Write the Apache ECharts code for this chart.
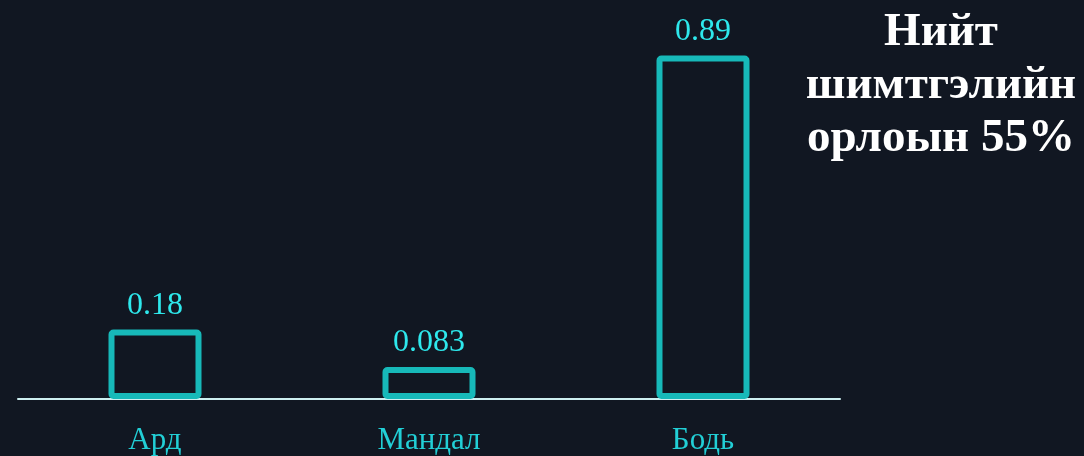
<!DOCTYPE html>
<html>
<head>
<meta charset="utf-8">
<script src="https://cdn.jsdelivr.net/npm/echarts@6/dist/echarts.min.js"></script>
<style>
  html, body { margin: 0; padding: 0; background: #111722; }
  #chart { width: 1084px; height: 456px; }
</style>
</head>
<body>
<div id="chart"></div>
<script>
// data
const categories = ['Ард', 'Мандал', 'Бодь']
const values = [0.18, 0.083, 0.89]
const valueLabels = ['0.18', '0.083', '0.89']
const titleLines = ['Нийт', 'шимтгэлийн', 'орлоын 55%']

const chart = echarts.init(document.getElementById('chart'))

const option = {
  backgroundColor: '#111722',
  animation: false,
  title: {
    text: titleLines.join('\n'),
    left: 936,
    top: 1,
    textAlign: 'center',
    textStyle: {
      color: '#ffffff',
      fontFamily: 'Liberation Serif',
      fontWeight: 'bold',
      fontSize: 47,
      lineHeight: 53
    }
  },
  grid: { left: 18, right: 244, top: 13, bottom: 56 },
  xAxis: {
    type: 'category',
    data: categories,
    axisLine: { show: true, lineStyle: { color: '#cdeff0', width: 2 } },
    axisTick: { show: false },
    axisLabel: {
      color: '#22cfd6',
      fontFamily: 'Liberation Serif',
      fontSize: 31,
      margin: 26
    }
  },
  yAxis: {
    type: 'value',
    min: 0,
    max: 1,
    show: false,
    splitLine: { show: false }
  },
  series: [
    {
      type: 'bar',
      data: values,
      barWidth: 93,
      itemStyle: {
        color: 'rgba(0,0,0,0)',
        borderColor: '#17b9b9',
        borderWidth: 6,
        borderRadius: 2
      },
      label: {
        show: true,
        position: 'top',
        distance: 8,
        color: '#2ee8ec',
        fontFamily: 'Liberation Serif',
        fontSize: 32,
        formatter: p => valueLabels[p.dataIndex]
      }
    }
  ]
}

chart.setOption(option)
window.addEventListener('resize', () => chart.resize())
</script>
</body>
</html>
